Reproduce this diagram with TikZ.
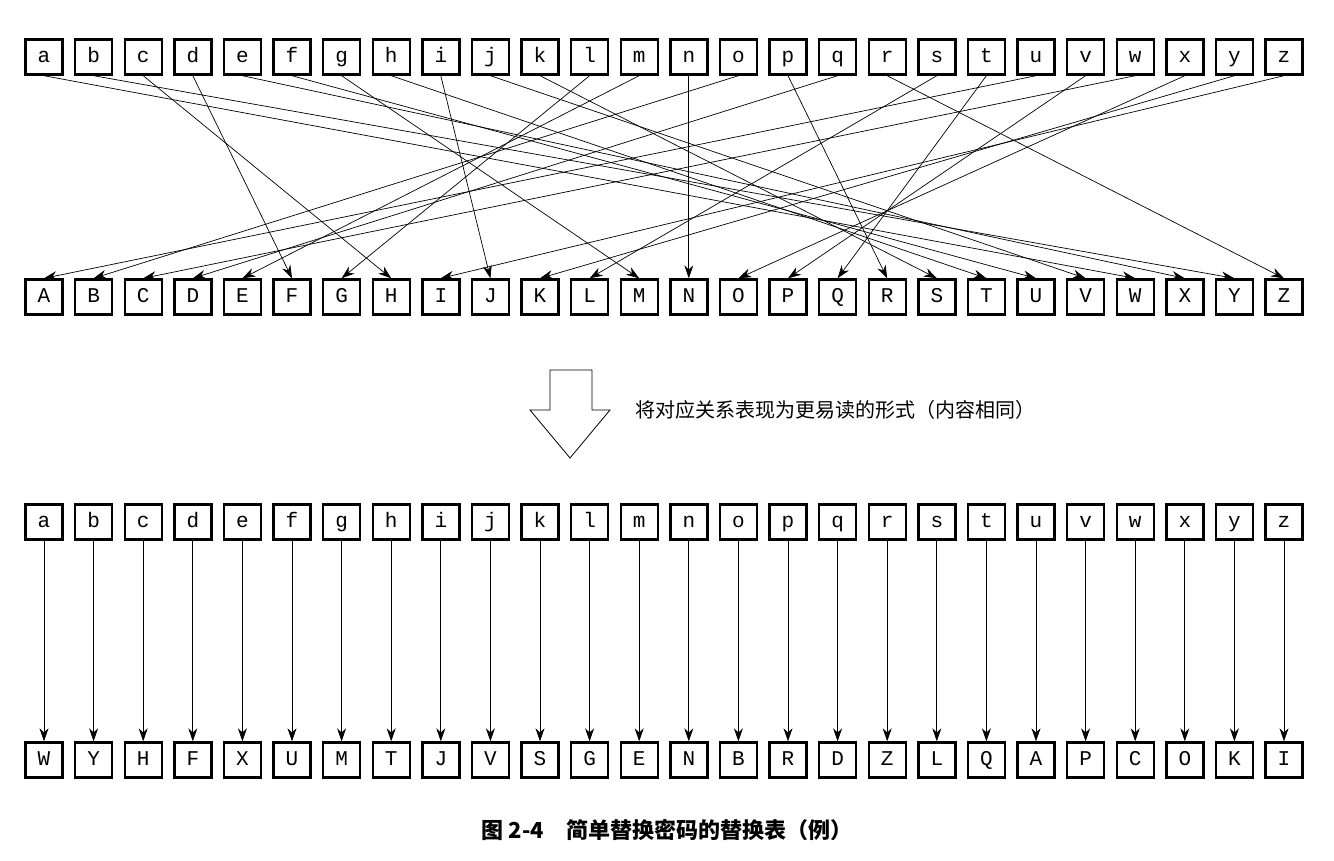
\documentclass[tikz,border=0pt]{standalone}
\usepackage{fontspec}
\setmonofont{Liberation Mono}
\newfontfamily\cjk{Noto Sans CJK SC}
\usetikzlibrary{arrows.meta, positioning}
\tikzset{
  letterbox/.style={draw, line width=2.4pt, minimum width=37pt, minimum height=35pt, inner sep=0pt, text height=14pt, text depth=3pt, font=\ttfamily\fontsize{21}{21}\selectfont},
  maplink/.style={-{Stealth[length=13pt, width=9pt]}, line width=0.7pt}
}
\begin{document}
\begin{tikzpicture}[x=1pt, y=-1pt]
  \useasboundingbox (0,0) rectangle (1334,860);
  % alphabet rows
  \foreach \p/\c [count=\i from 0] in {a/W,b/Y,c/H,d/F,e/X,f/U,g/M,h/T,i/J,j/V,k/S,l/G,m/E,n/N,o/B,p/R,q/D,r/Z,s/L,t/Q,u/A,v/P,w/C,x/O,y/K,z/I}{
    \node[letterbox] (t\p) at (44+49.6*\i, 57) {\p};
    \node[letterbox] (b\p) at (44+49.6*\i, 522) {\p};
    \node[letterbox] (c\p) at (44+49.6*\i, 760) {\c};
  }
  \foreach \U [count=\i from 0] in {A,B,C,D,E,F,G,H,I,J,K,L,M,N,O,P,Q,R,S,T,U,V,W,X,Y,Z}{
    \node[letterbox] (u\U) at (44+49.6*\i, 297) {\U};
  }
  % mapping
  \foreach \p/\c in {a/W,b/Y,c/H,d/F,e/X,f/U,g/M,h/T,i/J,j/V,k/S,l/G,m/E,n/N,o/B,p/R,q/D,r/Z,s/L,t/Q,u/A,v/P,w/C,x/O,y/K,z/I}{
    \draw[maplink] (t\p.south) -- (u\c.north);
    \draw[maplink] (b\p.south) -- (c\p.north);
  }
  % hollow arrow
  \draw[line width=0.8pt] (550,370) -- (592,370) -- (592,410) -- (610,410) -- (570,458) -- (530,410) -- (550,410) -- cycle;
  \node[anchor=west, font=\cjk\fontsize{20}{20}\selectfont] (note) at (632,410) {将对应关系表现为更易读的形式（内容相同）};
  \node[font=\cjk\bfseries\fontsize{22}{22}\selectfont] (caption) at (667,830) {图 2-4\quad 简单替换密码的替换表（例）};
\end{tikzpicture}
\end{document}
